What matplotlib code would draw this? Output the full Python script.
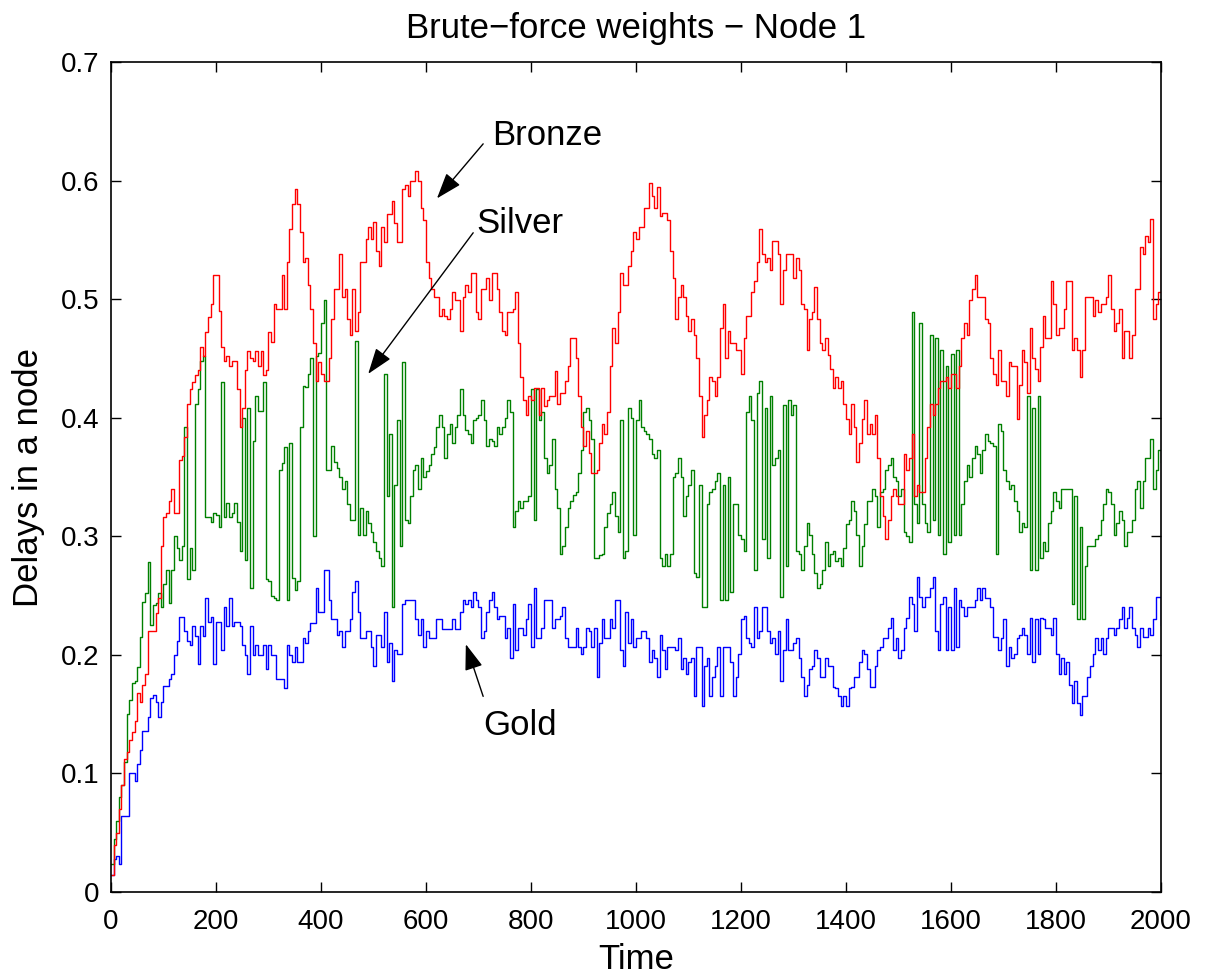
import numpy as np
import matplotlib
matplotlib.use('Agg')
import matplotlib.pyplot as plt
from matplotlib.ticker import FuncFormatter

plt.rcParams['font.family'] = ['Liberation Sans', 'DejaVu Sans']

# delays per class, one sample every 5 time steps (t = 0 .. 2000)
gold = [
    .014, .028, .03, .024, .064, .064, .064, .1, .1, .094,
    .108, .12, .136, .136, .148, .164, .166, .16, .148, .16,
    .174, .174, .18, .184, .2, .212, .232, .232, .22, .212,
    .208, .224, .216, .192, .224, .216, .248, .228, .232, .192,
    .228, .228, .204, .24, .224, .248, .224, .228, .228, .224,
    .208, .2, .184, .224, .2, .208, .2, .2, .208, .188,
    .208, .2, .2, .18, .18, .18, .172, .208, .2, .194,
    .207, .194, .194, .214, .21, .22, .227, .227, .256, .236,
    .236, .272, .272, .246, .23, .23, .217, .22, .207, .22,
    .22, .23, .253, .262, .236, .214, .214, .22, .22, .207,
    .191, .217, .217, .207, .236, .194, .21, .178, .204, .201,
    .201, .243, .246, .246, .246, .246, .23, .217, .23, .207,
    .22, .214, .214, .214, .23, .23, .222, .222, .222, .222,
    .23, .222, .222, .236, .246, .243, .246, .24, .253, .246,
    .24, .214, .22, .236, .246, .253, .24, .23, .233, .233,
    .214, .223, .197, .243, .204, .223, .223, .217, .23, .243,
    .207, .256, .214, .214, .223, .246, .246, .246, .223, .23,
    .23, .233, .24, .214, .207, .207, .207, .223, .207, .201,
    .207, .223, .22, .207, .223, .181, .21, .23, .214, .214,
    .23, .223, .246, .246, .204, .191, .236, .21, .23, .207,
    .214, .214, .22, .22, .214, .194, .204, .197, .181, .217,
    .204, .188, .207, .207, .207, .204, .214, .188, .197, .184,
    .194, .197, .165, .207, .207, .157, .191, .197, .165, .181,
    .191, .207, .165, .207, .207, .207, .194, .165, .181, .201,
    .23, .233, .214, .21, .207, .24, .214, .22, .24, .24,
    .22, .21, .214, .201, .22, .178, .204, .23, .204, .204,
    .21, .214, .197, .181, .165, .175, .188, .191, .204, .197,
    .181, .181, .197, .191, .191, .173, .172, .165, .157, .165,
    .157, .172, .173, .181, .181, .194, .204, .201, .188, .173,
    .173, .191, .204, .207, .214, .214, .223, .231, .204, .214,
    .197, .204, .223, .231, .249, .243, .22, .266, .249, .24,
    .249, .249, .256, .266, .22, .204, .243, .249, .204, .24,
    .204, .256, .207, .246, .24, .233, .24, .24, .24, .246,
    .256, .246, .256, .248, .248, .24, .215, .215, .204, .214,
    .23, .191, .207, .197, .201, .214, .217, .223, .217, .201,
    .231, .194, .23, .201, .231, .23, .223, .223, .217, .231,
    .201, .184, .197, .184, .194, .175, .159, .178, .159, .149,
    .165, .165, .181, .191, .201, .214, .204, .214, .201, .214,
    .223, .223, .217, .223, .23, .24, .223, .231, .24, .223,
    .217, .207, .223, .215, .215, .223, .217, .23, .249, .249,
    .225,
]

silver = [
    .024, .045, .06, .08, .09, .11, .15, .162, .176, .178,
    .19, .215, .245, .252, .278, .225, .242, .244, .252, .24,
    .26, .272, .244, .272, .30, .29, .28, .292, .392, .264,
    .29, .272, .412, .424, .448, .452, .316, .316, .312, .32,
    .318, .308, .43, .316, .328, .316, .32, .328, .312, .288,
    .40, .28, .408, .256, .38, .418, .406, .406, .43, .264,
    .262, .25, .248, .246, .356, .362, .375, .246, .379, .265,
    .255, .262, .392, .427, .426, .437, .45, .30, .452, .455,
    .48, .499, .356, .356, .376, .363, .358, .35, .34, .347,
    .327, .314, .314, .465, .301, .324, .301, .321, .311, .304,
    .295, .288, .282, .275, .437, .334, .386, .24, .343, .398,
    .292, .447, .314, .311, .334, .356, .36, .34, .366, .35,
    .355, .36, .369, .375, .392, .402, .392, .366, .386, .395,
    .379, .392, .402, .424, .402, .39, .386, .379, .398, .4,
    .402, .415, .398, .376, .382, .38, .376, .392, .386, .392,
    .4, .415, .405, .308, .321, .33, .324, .33, .33, .334,
    .424, .314, .424, .398, .405, .366, .353, .36, .382, .34,
    .324, .285, .292, .308, .324, .33, .335, .337, .353, .373,
    .405, .408, .398, .382, .282, .282, .284, .285, .308, .32,
    .327, .337, .317, .304, .398, .282, .288, .408, .4, .301,
    .398, .415, .392, .389, .386, .382, .369, .366, .373, .282,
    .275, .285, .275, .285, .35, .353, .366, .35, .317, .334,
    .343, .356, .269, .266, .343, .24, .24, .327, .337, .34,
    .347, .353, .246, .343, .246, .35, .253, .327, .327, .301,
    .298, .288, .405, .418, .398, .272, .421, .431, .298, .408,
    .282, .418, .36, .366, .373, .249, .411, .275, .415, .402,
    .411, .288, .285, .272, .292, .311, .301, .285, .269, .256,
    .26, .272, .295, .275, .285, .288, .279, .282, .275, .29,
    .31, .314, .33, .321, .301, .275, .292, .31, .33, .33,
    .34, .334, .308, .337, .34, .356, .36, .366, .35, .347,
    .334, .34, .304, .30, .295, .489, .327, .311, .48, .327,
    .311, .304, .47, .314, .467, .301, .457, .285, .444, .295,
    .454, .301, .457, .301, .327, .347, .36, .35, .366, .376,
    .369, .353, .373, .386, .38, .379, .376, .285, .395, .389,
    .356, .347, .34, .343, .33, .321, .304, .311, .308, .418,
    .272, .408, .272, .418, .282, .295, .288, .311, .321, .337,
    .33, .324, .34, .34, .34, .34, .243, .334, .23, .308,
    .23, .275, .292, .292, .292, .298, .301, .314, .327, .34,
    .337, .327, .301, .311, .321, .314, .292, .304, .304, .314,
    .34, .347, .324, .347, .366, .366, .382, .34, .356, .373,
    .363,
]

bronze = [
    .014, .04, .05, .07, .09, .112, .118, .128, .135, .144,
    .168, .16, .175, .184, .22, .22, .22, .235, .248, .292,
    .316, .32, .33, .34, .32, .32, .364, .368, .384, .412,
    .424, .43, .436, .44, .46, .452, .472, .485, .496, .52,
    .52, .49, .46, .448, .452, .444, .448, .448, .424, .392,
    .408, .44, .456, .45, .448, .456, .444, .456, .436, .44,
    .472, .464, .496, .492, .492, .52, .492, .531, .559, .58,
    .593, .58, .557, .531, .535, .512, .492, .463, .431, .447,
    .437, .431, .431, .45, .483, .509, .509, .538, .502, .509,
    .483, .47, .509, .473, .489, .531, .531, .551, .561, .551,
    .565, .541, .528, .561, .548, .572, .572, .583, .564, .548,
    .548, .593, .596, .587, .6, .6, .608, .6, .577, .567,
    .531, .518, .509, .502, .502, .486, .492, .486, .483, .492,
    .506, .499, .499, .473, .502, .512, .506, .522, .522, .489,
    .483, .509, .509, .518, .499, .522, .522, .509, .489, .473,
    .47, .489, .489, .492, .506, .463, .434, .415, .402, .418,
    .415, .425, .425, .402, .425, .41, .415, .418, .418, .439,
    .412, .421, .421, .431, .444, .467, .467, .45, .418, .392,
    .376, .389, .37, .353, .353, .356, .379, .395, .386, .405,
    .444, .476, .463, .489, .522, .512, .512, .528, .541, .557,
    .551, .561, .561, .577, .577, .598, .587, .577, .595, .57,
    .573, .573, .567, .541, .518, .483, .502, .512, .502, .486,
    .473, .483, .47, .45, .418, .384, .402, .415, .434, .431,
    .418, .434, .476, .496, .45, .473, .463, .463, .457, .457,
    .437, .467, .486, .486, .506, .515, .531, .559, .538, .531,
    .535, .525, .549, .549, .538, .496, .525, .538, .538, .538,
    .518, .535, .525, .496, .492, .457, .483, .489, .51, .483,
    .463, .457, .467, .453, .441, .425, .434, .425, .431, .412,
    .399, .386, .412, .392, .363, .379, .399, .415, .386, .395,
    .386, .402, .366, .334, .317, .298, .314, .334, .34, .334,
    .327, .327, .369, .356, .366, .386, .334, .343, .337, .337,
    .366, .392, .412, .402, .412, .425, .431, .431, .434, .425,
    .437, .437, .425, .444, .467, .48, .47, .499, .509, .52,
    .502, .502, .502, .483, .48, .45, .437, .428, .457, .431,
    .431, .418, .447, .444, .444, .399, .428, .457, .447, .421,
    .476, .45, .441, .431, .46, .486, .467, .467, .515, .496,
    .47, .476, .476, .492, .515, .515, .457, .467, .457, .434,
    .457, .502, .502, .502, .486, .499, .489, .496, .496, .502,
    .52, .492, .473, .48, .492, .45, .473, .473, .45, .47,
    .509, .509, .544, .538, .553, .548, .568, .483, .496, .506,
    .535,
]

x_ticks = [0, 200, 400, 600, 800, 1000, 1200, 1400, 1600, 1800, 2000]
y_ticks = [0, 0.1, 0.2, 0.3, 0.4, 0.5, 0.6, 0.7]

t = np.arange(0, 2001, 5)

fig = plt.figure(figsize=(12.06, 9.77), dpi=100)
ax = fig.add_axes([0.092, 0.087, 0.8706, 0.8495])

# matlab colour order: blue, dark green, red
ax.plot(t, gold, color=(0, 0, 1), lw=1.0, drawstyle='steps-post')
ax.plot(t, silver, color=(0, 0.5, 0), lw=1.0, drawstyle='steps-post')
ax.plot(t, bronze, color=(1, 0, 0), lw=1.0, drawstyle='steps-post')

ax.set_xlim(0, 2000)
ax.set_ylim(0, 0.7)
ax.set_xticks(x_ticks)
ax.set_yticks(y_ticks)
fmt = FuncFormatter(lambda v, p: '%g' % v)
ax.xaxis.set_major_formatter(fmt)
ax.yaxis.set_major_formatter(fmt)
ax.tick_params(direction='in', length=7, width=1, top=True, right=True,
               labelsize=20, colors='k')
ax.tick_params(axis='x', pad=12)
ax.tick_params(axis='y', pad=8)
for s in ax.spines.values():
    s.set_linewidth(1.2)

ax.set_xlabel('Time', fontsize=25, labelpad=6)
ax.set_ylabel('Delays in a node', fontsize=25, labelpad=12)
ax.set_title('Brute\u2212force weights \u2212 Node 1', fontsize=25, pad=17)

arrow = dict(arrowstyle='-|>,head_length=0.8,head_width=0.28', color='k',
             lw=1.0, shrinkA=0, shrinkB=0, mutation_scale=20)
ax.annotate('', xy=(621, 0.585), xytext=(709, 0.631), arrowprops=arrow)
ax.text(726, 0.630, 'Bronze', fontsize=25, ha='left', va='baseline')
ax.annotate('', xy=(490, 0.437), xytext=(690, 0.556), arrowprops=arrow)
ax.text(697, 0.556, 'Silver', fontsize=25, ha='left', va='baseline')
ax.annotate('', xy=(676, 0.209), xytext=(709, 0.165), arrowprops=arrow)
ax.text(709, 0.132, 'Gold', fontsize=25, ha='left', va='baseline')

fig.savefig('out.png', dpi=100)
